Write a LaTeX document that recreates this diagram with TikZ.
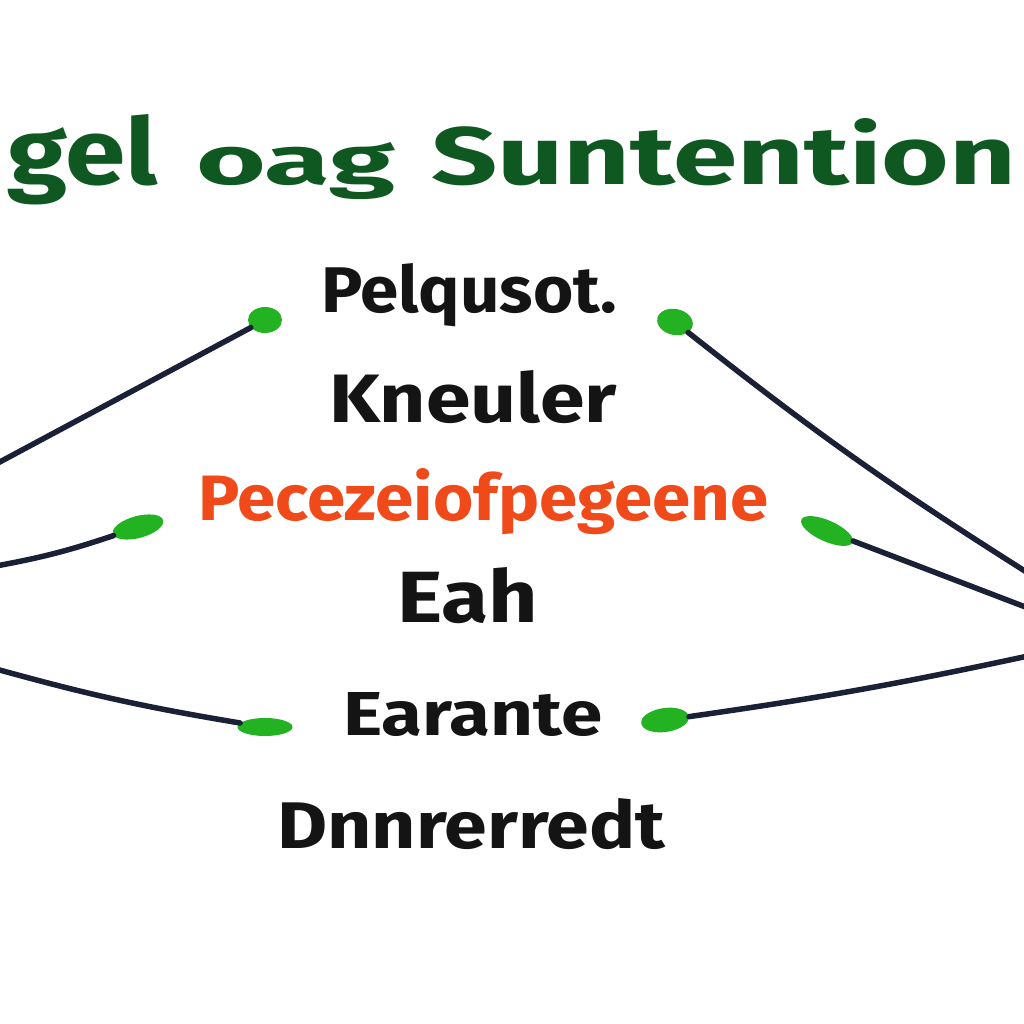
\documentclass[tikz,border=0pt]{standalone}
\usepackage{fontspec}
\usepackage{graphicx}
\setmainfont{Fira Sans}
\usetikzlibrary{shapes.geometric}
\definecolor{titlegreen}{RGB}{16,88,34}
\definecolor{txtred}{RGB}{240,74,26}
\definecolor{txtblack}{RGB}{20,20,20}
\definecolor{linenavy}{RGB}{26,32,54}
\definecolor{dotgreen}{RGB}{34,178,34}
\newcommand{\fitt}[3]{\resizebox{#1pt}{#2pt}{\bfseries #3}}
\tikzset{
  lbl/.style={anchor=base west, inner sep=0pt, outer sep=0pt},
  dotg/.style={ellipse, fill=dotgreen, draw=none, inner sep=0pt},
  conn/.style={draw=linenavy, line width=5.5pt, line cap=round},
}
\begin{document}
\begin{tikzpicture}[x=1pt,y=-1pt]
\useasboundingbox (0,0) rectangle (1024,1024);
\clip (0,0) rectangle (1024,1024);
\fill[white] (0,0) rectangle (1024,1024);
% title
\node[lbl, text=titlegreen] (t1) at (8,185) {\fitt{150}{70}{gel}};
\node[lbl, text=titlegreen] (t2) at (196,185) {\fitt{199}{42}{oag}};
\node[lbl, text=titlegreen] (t3) at (431,185) {\fitt{585}{66}{Suntention}};
% labels
\node[lbl, text=txtblack] (a) at (321,312) {\fitt{296}{49}{Pelqusot.}};
\node[lbl, text=txtblack] (b) at (329,422) {\fitt{288}{52}{Kneuler}};
\node[lbl, text=txtred] (c) at (198,520) {\fitt{570}{52}{Pecezeiofpegeene}};
\node[lbl, text=txtblack] (d) at (397,622) {\fitt{141}{55}{Eah}};
\node[lbl, text=txtblack] (e) at (343,735) {\fitt{259}{43}{Earante}};
\node[lbl, text=txtblack] (f) at (277,848) {\fitt{388}{50}{Dnnrerredt}};
% dots
\node[dotg, minimum width=34pt, minimum height=26pt] (l1) at (265,320) {};
\node[dotg, minimum width=52pt, minimum height=22pt, rotate=15] (l2) at (138,527) {};
\node[dotg, minimum width=55pt, minimum height=18pt] (l3) at (265,727) {};
\node[dotg, minimum width=36pt, minimum height=26pt, rotate=-12] (r1) at (675,322) {};
\node[dotg, minimum width=56pt, minimum height=21pt, rotate=-24] (r2) at (827,531) {};
\node[dotg, minimum width=48pt, minimum height=24pt, rotate=8] (r3) at (665,720) {};
% edge coordinates
\coordinate (cl1) at (-4,464);
\coordinate (cl2) at (-4,566);
\coordinate (cl3) at (-4,669);
\coordinate (cr1) at (1028,573);
\coordinate (cr2) at (1028,608);
\coordinate (cr3) at (1028,656);
% connectors
\draw[conn] (l1) -- (cl1);
\draw[conn] (l2) to[bend left=4] (cl2);
\draw[conn] (l3) to[bend left=3] (cl3);
\draw[conn] (r1) to[bend right=3] (cr1);
\draw[conn] (r2) -- (cr2);
\draw[conn] (r3) to[bend right=2] (cr3);
\end{tikzpicture}
\end{document}
